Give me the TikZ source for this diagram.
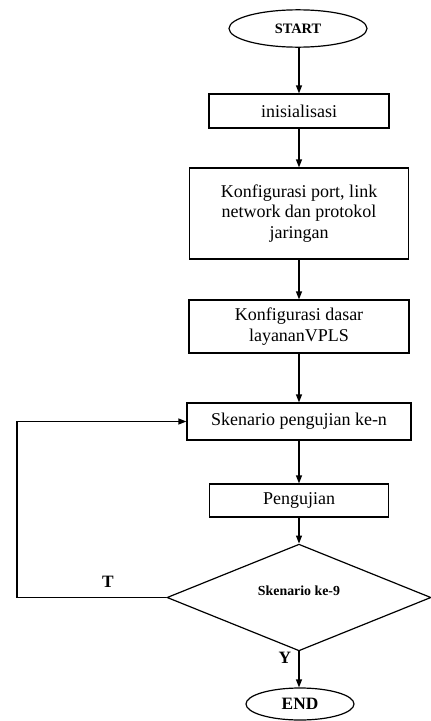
\documentclass[tikz,border=0pt]{standalone}
\usepackage{fontspec}
\setmainfont{Liberation Serif}
\usetikzlibrary{shapes.geometric,arrows.meta}
\begin{document}
\begin{tikzpicture}[x=0.75pt,y=-0.75pt,
  box/.style={draw, line width=0.9pt, inner sep=0pt, align=center, font=\fontsize{13.5}{15.4}\selectfont},
  term/.style={draw, ellipse, line width=0.9pt, inner sep=0pt},
  arr/.style={line width=0.9pt, -{Triangle[length=6pt,width=4.5pt]}},
  lbl/.style={font=\fontsize{13}{15}\selectfont\bfseries}]
\useasboundingbox (0,0) rectangle (430,721);
\node[term, minimum width=103.5pt, minimum height=28pt, font=\fontsize{10.8}{13}\selectfont\bfseries] (start) at (298,28.5) {START};
\node[box, minimum width=135pt, minimum height=25.5pt] (init) at (299,111) {inisialisasi};
\node[box, minimum width=164.25pt, minimum height=68.25pt] (konf1) at (299,213.5) {Konfigurasi port, link\\network dan protokol\\jaringan};
\node[box, minimum width=165pt, minimum height=39.75pt] (konf2) at (299,326.5) {Konfigurasi dasar\\layananVPLS};
\node[box, minimum width=168pt, minimum height=27.75pt] (sken) at (299,421.5) {Skenario pengujian ke-n};
\node[box, minimum width=134.25pt, minimum height=24.75pt] (uji) at (299,500.5) {Pengujian};
\node[draw, diamond, line width=0.9pt, inner sep=0pt, minimum width=198pt, minimum height=60.75pt, text height=8pt, text depth=10.5pt, font=\fontsize{10.4}{13}\selectfont\bfseries] (dec) at (299,597.5) {Skenario ke-9};
\node[term, minimum width=81pt, minimum height=24pt, font=\fontsize{13}{15}\selectfont\bfseries] (end) at (300,704) {END};
\coordinate (loop) at (17,597.5);
\draw[arr] (start.south -| init.north) -- (init.north);
\draw[arr] (init) -- (konf1);
\draw[arr] (konf1) -- (konf2);
\draw[arr] (konf2) -- (sken);
\draw[arr] (sken) -- (uji);
\draw[arr] (uji) -- (dec);
\draw[arr] (dec.south) -- (dec.south |- end.north);
\draw[arr] (dec.west) -- (loop) |- (sken.west);
\node[lbl] (t) at (108,582) {T};
\node[lbl] (y) at (285,658) {Y};
\end{tikzpicture}
\end{document}
